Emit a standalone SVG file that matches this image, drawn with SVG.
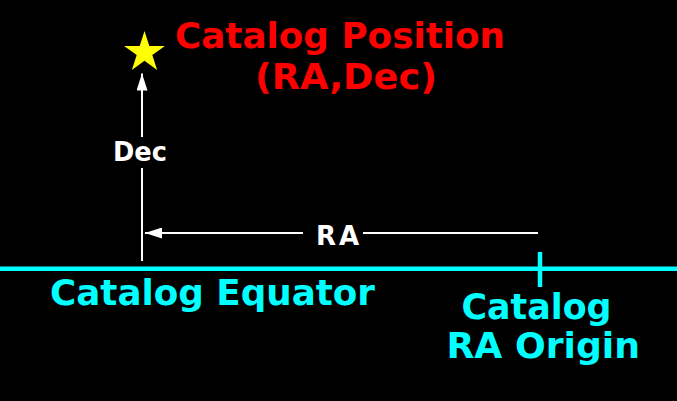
<svg xmlns="http://www.w3.org/2000/svg" width="677" height="401" viewBox="0 0 677 401">
<defs>
<style>
text{font-family:"DejaVu Sans","Verdana",sans-serif;font-weight:bold;}
.red{fill:#ff0000;font-size:35px;}
.cyan{fill:#00ffff;font-size:35px;}
.white{fill:#ffffff;font-size:26px;}
.wl{stroke:#ffffff;stroke-width:2;fill:none;}
.cl{stroke:#00ffff;stroke-width:4.5;fill:none;}
</style>
<marker id="ah" viewBox="0 0 17 11" refX="17" refY="5.5" markerWidth="17" markerHeight="11" markerUnits="userSpaceOnUse" orient="auto">
<path d="M0,0 L17,5.5 L0,11 z" fill="#ffffff"/>
</marker>
</defs>
<rect width="677" height="401" fill="#000000"/>
<g id="connectors">
<line class="cl" x1="0" y1="268.7" x2="677" y2="268.7"/>
<line class="cl" x1="540" y1="252" x2="540" y2="287"/>
<line class="wl" x1="142" y1="261" x2="142" y2="168"/>
<line class="wl" x1="142" y1="137" x2="142" y2="73.5" marker-end="url(#ah)"/>
<line class="wl" x1="538" y1="233" x2="363" y2="233"/>
<line class="wl" x1="303" y1="233" x2="145" y2="233" marker-end="url(#ah)"/>
</g>
<g id="star">
<polygon points="144.5,31 149.3,45.9 164.9,45.9 152.3,55 157.1,69.9 144.5,60.7 131.9,69.9 136.7,55 124.1,45.9 139.7,45.9" fill="#ffff00"/>
</g>
<g id="catalog-position">
<text class="red" x="175" y="48" textLength="330" lengthAdjust="spacingAndGlyphs">Catalog Position</text>
<text class="red" x="255" y="88.5" textLength="182" lengthAdjust="spacingAndGlyphs">(RA,Dec)</text>
</g>
<g id="dec-label"><text class="white" x="113" y="161" textLength="54" lengthAdjust="spacingAndGlyphs">Dec</text></g>
<g id="ra-label"><text class="white" x="316" y="245" textLength="43" lengthAdjust="spacing">RA</text></g>
<g id="catalog-equator"><text class="cyan" x="50" y="305" textLength="325" lengthAdjust="spacingAndGlyphs">Catalog Equator</text></g>
<g id="ra-origin">
<text class="cyan" x="461.5" y="319" textLength="150" lengthAdjust="spacingAndGlyphs">Catalog</text>
<text class="cyan" x="446.5" y="358" textLength="193.5" lengthAdjust="spacingAndGlyphs">RA Origin</text>
</g>
</svg>
